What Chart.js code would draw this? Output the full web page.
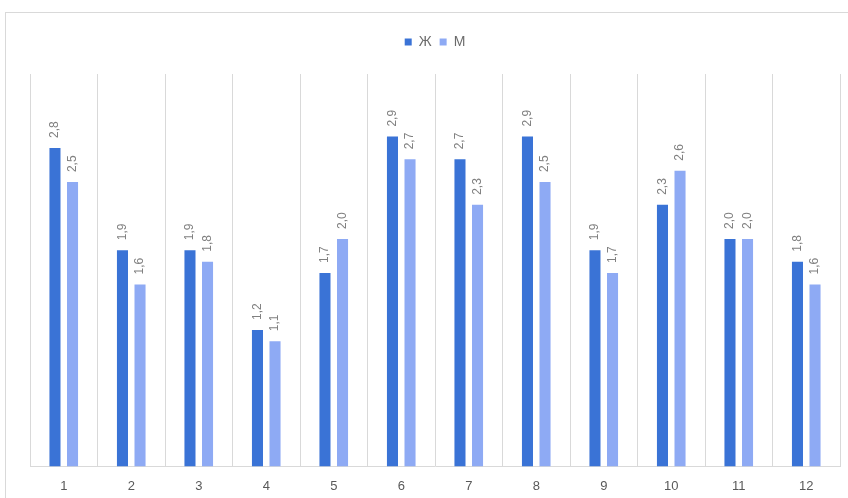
<!DOCTYPE html>
<html>
<head>
<meta charset="utf-8">
<script src="https://cdn.jsdelivr.net/npm/chart.js@4/dist/chart.umd.min.js"></script>
<style>
  body { margin: 0; background: #fff; }
  #frame { position: absolute; left: 5px; top: 12px; width: 860px; height: 500px; border: 1px solid #d9d9d9; }
  #wrap { position: absolute; left: 0; top: 0; width: 848px; height: 498px; }
</style>
</head>
<body>
<div id="frame"></div>
<div id="wrap"><canvas id="chart"></canvas></div>
<script>
/* Data */
const categories = ["1", "2", "3", "4", "5", "6", "7", "8", "9", "10", "11", "12"];
const seriesNames = ["Ж", "М"];
const valuesF = [2.8, 1.9, 1.9, 1.2, 1.7, 2.9, 2.7, 2.9, 1.9, 2.3, 2.0, 1.8];
const valuesM = [2.5, 1.6, 1.8, 1.1, 2.0, 2.7, 2.3, 2.5, 1.7, 2.6, 2.0, 1.6];

const colorF = "#3a73d6";
const colorM = "#8eaaf4";
const textColor = "#595959";
const labelColor = "#808080";

// rotated value labels above each bar
const barLabels = {
  id: "barLabels",
  afterDatasetsDraw(chart) {
    const ctx = chart.ctx;
    ctx.save();
    ctx.font = "12px 'Liberation Sans', Arial, sans-serif";
    ctx.fillStyle = labelColor;
    ctx.textAlign = "left";
    ctx.textBaseline = "middle";
    chart.data.datasets.forEach(function (ds, i) {
      chart.getDatasetMeta(i).data.forEach(function (bar, j) {
        const txt = ds.data[j].toFixed(1).replace(".", ",");
        ctx.save();
        ctx.translate(bar.x, bar.y - 10);
        ctx.rotate(-Math.PI / 2);
        ctx.fillText(txt, 0, 0);
        ctx.restore();
      });
    });
    ctx.restore();
  }
};

// extra space under the legend
const legendGap = {
  id: "legendGap",
  beforeInit(chart) {
    const origFit = chart.legend.fit;
    chart.legend.fit = function () {
      origFit.bind(chart.legend)();
      this.height += 15;
    };
  }
};

const ctx = document.getElementById("chart").getContext("2d");
new Chart(ctx, {
  type: "bar",
  data: {
    labels: categories,
    datasets: [
      { label: seriesNames[0], data: valuesF, backgroundColor: colorF },
      { label: seriesNames[1], data: valuesM, backgroundColor: colorM }
    ]
  },
  options: {
    responsive: true,
    maintainAspectRatio: false,
    animation: false,
    layout: { padding: { left: 30, right: 8, top: 27, bottom: -8 } },
    datasets: {
      bar: { categoryPercentage: 0.52, barPercentage: 0.63 }
    },
    plugins: {
      legend: {
        position: "top",
        labels: {
          boxWidth: 7,
          boxHeight: 7,
          padding: 8,
          color: "#6b6b6b",
          font: { size: 14, family: "'Liberation Sans', Arial, sans-serif" }
        }
      },
      tooltip: { enabled: false }
    },
    scales: {
      x: {
        grid: { display: true, offset: true, color: "#d9d9d9", drawTicks: false },
        border: { display: true, color: "#d9d9d9" },
        ticks: {
          padding: 12,
          color: textColor,
          font: { size: 13, family: "'Liberation Sans', Arial, sans-serif" }
        }
      },
      y: {
        display: false,
        min: 0,
        max: 3.45
      }
    }
  },
  plugins: [barLabels, legendGap]
});
</script>
</body>
</html>
